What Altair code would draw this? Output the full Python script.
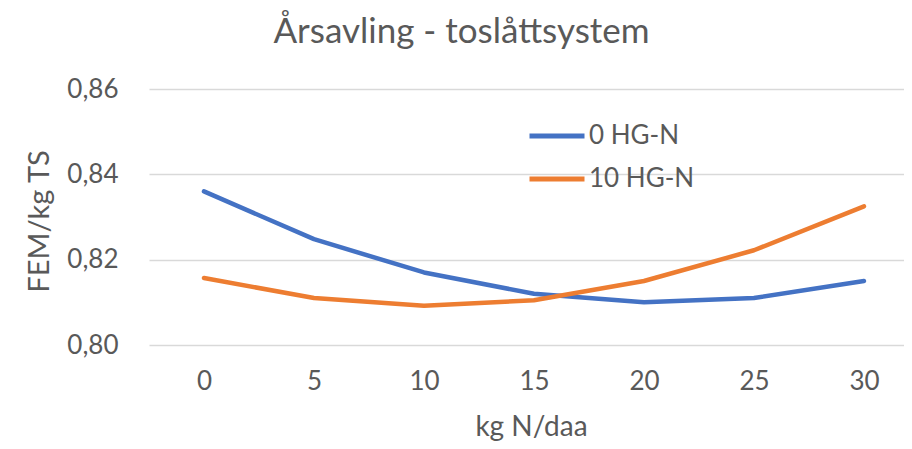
import altair as alt
import pandas as pd

x_values = [0, 5, 10, 15, 20, 25, 30]
series_names = ["0 HG-N", "10 HG-N"]
hg0 = [0.836, 0.8248, 0.817, 0.812, 0.810, 0.811, 0.815]
hg10 = [0.8157, 0.811, 0.8092, 0.8105, 0.815, 0.8222, 0.8325]
y_ticks = [0.80, 0.82, 0.84, 0.86]
colors = ["#4472C4", "#ED7D31"]

rows = []
for name, vals in zip(series_names, [hg0, hg10]):
    for xv, yv in zip(x_values, vals):
        rows.append({"N": xv, "FEM": yv, "Serie": name})
df = pd.DataFrame(rows)

FONT = "Lato"
TXT = "#595959"

chart = alt.Chart(df).mark_line(strokeWidth=4.5, strokeCap="round", strokeJoin="round").encode(
    x=alt.X("N:Q",
            scale=alt.Scale(domain=[-2.5, 31.82], nice=False, zero=False),
            axis=alt.Axis(values=x_values, title="kg N/daa", grid=False, domain=False, ticks=False,
                          labelFontSize=26, labelColor=TXT, labelFont=FONT, labelPadding=23,
                          titleFontSize=28, titleColor=TXT, titleFont=FONT, titleFontWeight="normal",
                          titleX=382, titlePadding=19)),
    y=alt.Y("FEM:Q",
            scale=alt.Scale(domain=[0.80, 0.86], nice=False, zero=False),
            axis=alt.Axis(values=y_ticks, title="FEM/kg TS", grid=True, gridColor="#D9D9D9", gridWidth=1.3,
                          domain=False, ticks=False,
                          labelExpr="replace(format(datum.value, '.2f'), '.', ',')",
                          labelFontSize=26, labelColor=TXT, labelFont=FONT, labelPadding=31,
                          titleFontSize=29, titleColor=TXT, titleFont=FONT, titleFontWeight="normal",
                          titleX=-110, titleY=132, titleAngle=-90, titleBaseline="middle", titleAlign="center")),
    color=alt.Color("Serie:N",
                    scale=alt.Scale(domain=series_names, range=colors),
                    legend=alt.Legend(title=None, orient="none", legendX=378, legendY=17,
                                      symbolType="stroke", symbolSize=3025, symbolStrokeWidth=5,
                                      labelFontSize=26, labelColor=TXT, labelFont=FONT, labelOffset=2,
                                      rowPadding=0)),
).properties(
    width=755,
    height=256,
    title=alt.TitleParams("Årsavling - toslåttsystem", anchor="middle", frame="group", dx=-65,
                          fontSize=35, font=FONT, color=TXT, fontWeight="normal", offset=26),
    autosize=alt.AutoSizeParams(type="none"),
    padding={"left": 141, "top": 81, "right": 0, "bottom": 96},
).configure_view(stroke=None)

chart.save("out.html", embed_options={"renderer": "svg", "actions": False})
